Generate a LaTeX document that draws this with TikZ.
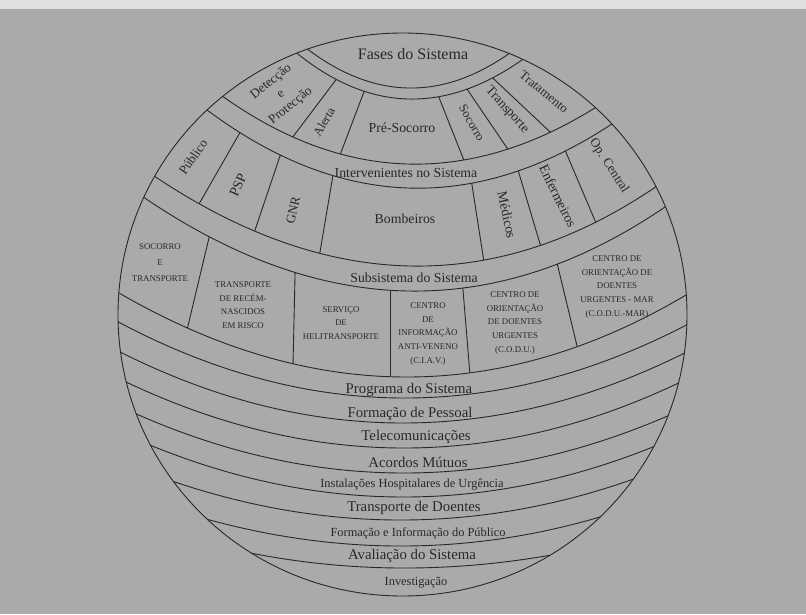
\documentclass[tikz,border=0pt]{standalone}
\usepackage{fontspec}
\setmainfont{Liberation Serif}
\usetikzlibrary{calc}

\definecolor{paper}{RGB}{168,171,168}
\definecolor{paperedge}{RGB}{222,224,224}
\definecolor{ink}{RGB}{40,40,40}

% A band boundary: a bow from the rim (left angle) through a low point to the rim (right angle)
\newcommand\bandarc[5]{%
  \coordinate (arc-#1-L) at ([shift={(O)}]#2:284.5pt and 281.5pt);
  \coordinate (arc-#1-M) at (#3,#4);
  \coordinate (arc-#1-R) at ([shift={(O)}]#5:284.5pt and 281.5pt);
  \coordinate (arc-#1-a) at ($1.33333*(arc-#1-M)-0.33333*(arc-#1-R)$);
  \coordinate (arc-#1-b) at ($1.33333*(arc-#1-M)-0.33333*(arc-#1-L)$);
}
% A cell divider through two points, run past both bounding bows (clipped by the band)
\newcommand\divider[4]{%
  \coordinate (dv-a) at (#1,#2);
  \coordinate (dv-b) at (#3,#4);
  \draw[rule] ($(dv-a)!-0.6!(dv-b)$) -- ($(dv-b)!-0.6!(dv-a)$);
}

\begin{document}
\begin{tikzpicture}[x=1pt,y=-1pt,
  rule/.style={draw=ink, line width=0.9pt},
  lbl/.style={text=ink, inner sep=0pt, font=\fontsize{13.8}{16}\selectfont},
  big/.style={lbl, font=\fontsize{14.8}{17}\selectfont},
  small/.style={lbl, font=\fontsize{12.4}{14}\selectfont},
  caps/.style={text=ink, inner sep=0pt, align=center, font=\fontsize{8.8}{13.6}\selectfont}]

\fill[paper] (0,0) rectangle (806,614);
\fill[paperedge] (0,0) rectangle (806,9);
\useasboundingbox (0,0) rectangle (806,614);

\coordinate (O) at (402.5,314.5);

% band boundaries, top to bottom
\bandarc{A}{109.5}{408}{88}{68}
\bandarc{B}{111.8}{408}{99}{65}
\bandarc{C}{129.2}{407}{164}{47.3}
\bandarc{D}{133.4}{408}{188}{42.6}
\bandarc{E}{150.6}{410}{266}{27}
\bandarc{F}{155.4}{408}{291}{22.5}
\bandarc{G}{175.6}{405}{377}{4}
\bandarc{H}{181.5}{402}{398}{-2.1}
\bandarc{I}{187.7}{402}{423}{-7.9}
\bandarc{J}{193.9}{403}{448}{-14.1}
\bandarc{K}{200.7}{402}{473}{-21.1}
\bandarc{L}{207.7}{402}{497}{-28}
\bandarc{M}{216.4}{404}{520}{-35.8}
\bandarc{N}{226.7}{405}{546}{-46}
\bandarc{O}{238}{399}{568}{-58.8}

% globe outline and bands
\draw[rule] (O) ellipse [x radius=284.5pt, y radius=281.5pt];
\foreach \n in {A,...,O}
  \draw[rule] (arc-\n-L) .. controls (arc-\n-a) and (arc-\n-b) .. (arc-\n-R);

% phases of the system
\begin{scope}
  \clip (arc-B-L) .. controls (arc-B-a) and (arc-B-b) .. (arc-B-R)
     -- (arc-C-R) .. controls (arc-C-b) and (arc-C-a) .. (arc-C-L) -- cycle;
  \divider{332}{85}{292}{138}
  \divider{362}{97}{340}{155}
  \divider{440}{100}{465}{163}
  \divider{469}{92}{503}{142}
  \divider{497}{82}{548}{130}
\end{scope}

% participants
\begin{scope}
  \clip (arc-D-L) .. controls (arc-D-a) and (arc-D-b) .. (arc-D-R)
     -- (arc-E-R) .. controls (arc-E-b) and (arc-E-a) .. (arc-E-L) -- cycle;
  \divider{238}{136}{199}{204}
  \divider{278}{162}{254}{233}
  \divider{332}{181}{319}{258}
  \divider{472}{185}{484}{262}
  \divider{518}{170}{541}{247}
  \divider{565}{150}{599}{230}
\end{scope}

% subsystems
\begin{scope}
  \clip (arc-F-L) .. controls (arc-F-a) and (arc-F-b) .. (arc-F-R)
     -- (arc-G-R) .. controls (arc-G-b) and (arc-G-a) .. (arc-G-L) -- cycle;
  \divider{208}{242}{187}{330}
  \divider{295}{277}{293}{365}
  \divider{390}{293}{390}{378}
  \divider{463}{290}{470}{375}
  \divider{558}{267}{578}{350}
\end{scope}

% labels: phases
\node[lbl, font=\fontsize{16}{19}\selectfont] (fases) at (413,54) {Fases do Sistema};
\node[lbl, rotate=39, align=center, font=\fontsize{13}{15.5}\selectfont] (detec) at (281,94) {Detecção\\e\\Protecção};
\node[lbl, rotate=60, font=\fontsize{12.5}{14}\selectfont] (alerta) at (324,122) {Alerta};
\node[lbl] (presoc) at (402,128) {Pré-Socorro};
\node[lbl, rotate=-60, font=\fontsize{12.5}{14}\selectfont] (socorro) at (472,123) {Socorro};
\node[lbl, rotate=-48, font=\fontsize{13.5}{15}\selectfont] (transp) at (507,110) {Transporte};
\node[lbl, rotate=-39, font=\fontsize{12.8}{15}\selectfont] (trat) at (544,92) {Tratamento};

% labels: participants
\node[lbl] (interv) at (406,173) {Intervenientes no Sistema};
\node[lbl, rotate=55, font=\fontsize{13}{15}\selectfont] (publico) at (193,157) {Público};
\node[lbl, rotate=66, font=\fontsize{14}{15}\selectfont] (psp) at (238,185) {PSP};
\node[lbl, rotate=77, font=\fontsize{13}{15}\selectfont] (gnr) at (293,210) {GNR};
\node[lbl] (bomb) at (405,219) {Bombeiros};
\node[lbl, rotate=-78] (medicos) at (507,215) {Médicos};
\node[lbl, rotate=-64] (enferm) at (558,196) {Enfermeiros};
\node[lbl, rotate=-57, font=\fontsize{13}{15}\selectfont] (opc) at (609,166) {Op. Central};

% labels: subsystems
\node[lbl] (subs) at (414,278) {Subsistema do Sistema};
\node[caps, font=\fontsize{8.8}{16}\selectfont] (sc-tr) at (160,263) {SOCORRO\\E\\TRANSPORTE};
\node[caps] (recem) at (243,305) {TRANSPORTE\\DE RECÉM-\\NASCIDOS\\EM RISCO};
\node[caps] (heli) at (341,323) {SERVIÇO\\DE\\HELITRANSPORTE};
\node[caps] (ciav) at (428,334) {CENTRO\\DE\\INFORMAÇÃO\\ANTI-VENENO\\(C.I.A.V.)};
\node[caps] (codu) at (515,323) {CENTRO DE\\ORIENTAÇÃO\\DE DOENTES\\URGENTES\\(C.O.D.U.)};
\node[caps] (codumar) at (617,287) {CENTRO DE\\ORIENTAÇÃO DE\\DOENTES\\URGENTES - MAR\\(C.O.D.U.-MAR)};

% labels: full-width bands
\node[big] (prog) at (409,389.5) {Programa do Sistema};
\node[big] (form) at (410,413.5) {Formação de Pessoal};
\node[big] (tele) at (416,436.5) {Telecomunicações};
\node[big] (acord) at (418,462.5) {Acordos Mútuos};
\node[small] (inst) at (412,485) {Instalações Hospitalares de Urgência};
\node[big] (transd) at (414,507.5) {Transporte de Doentes};
\node[small] (finfo) at (418,533) {Formação e Informação do Público};
\node[big] (aval) at (412,556) {Avaliação do Sistema};
\node[small] (invest) at (416,582.5) {Investigação};
\end{tikzpicture}
\end{document}
